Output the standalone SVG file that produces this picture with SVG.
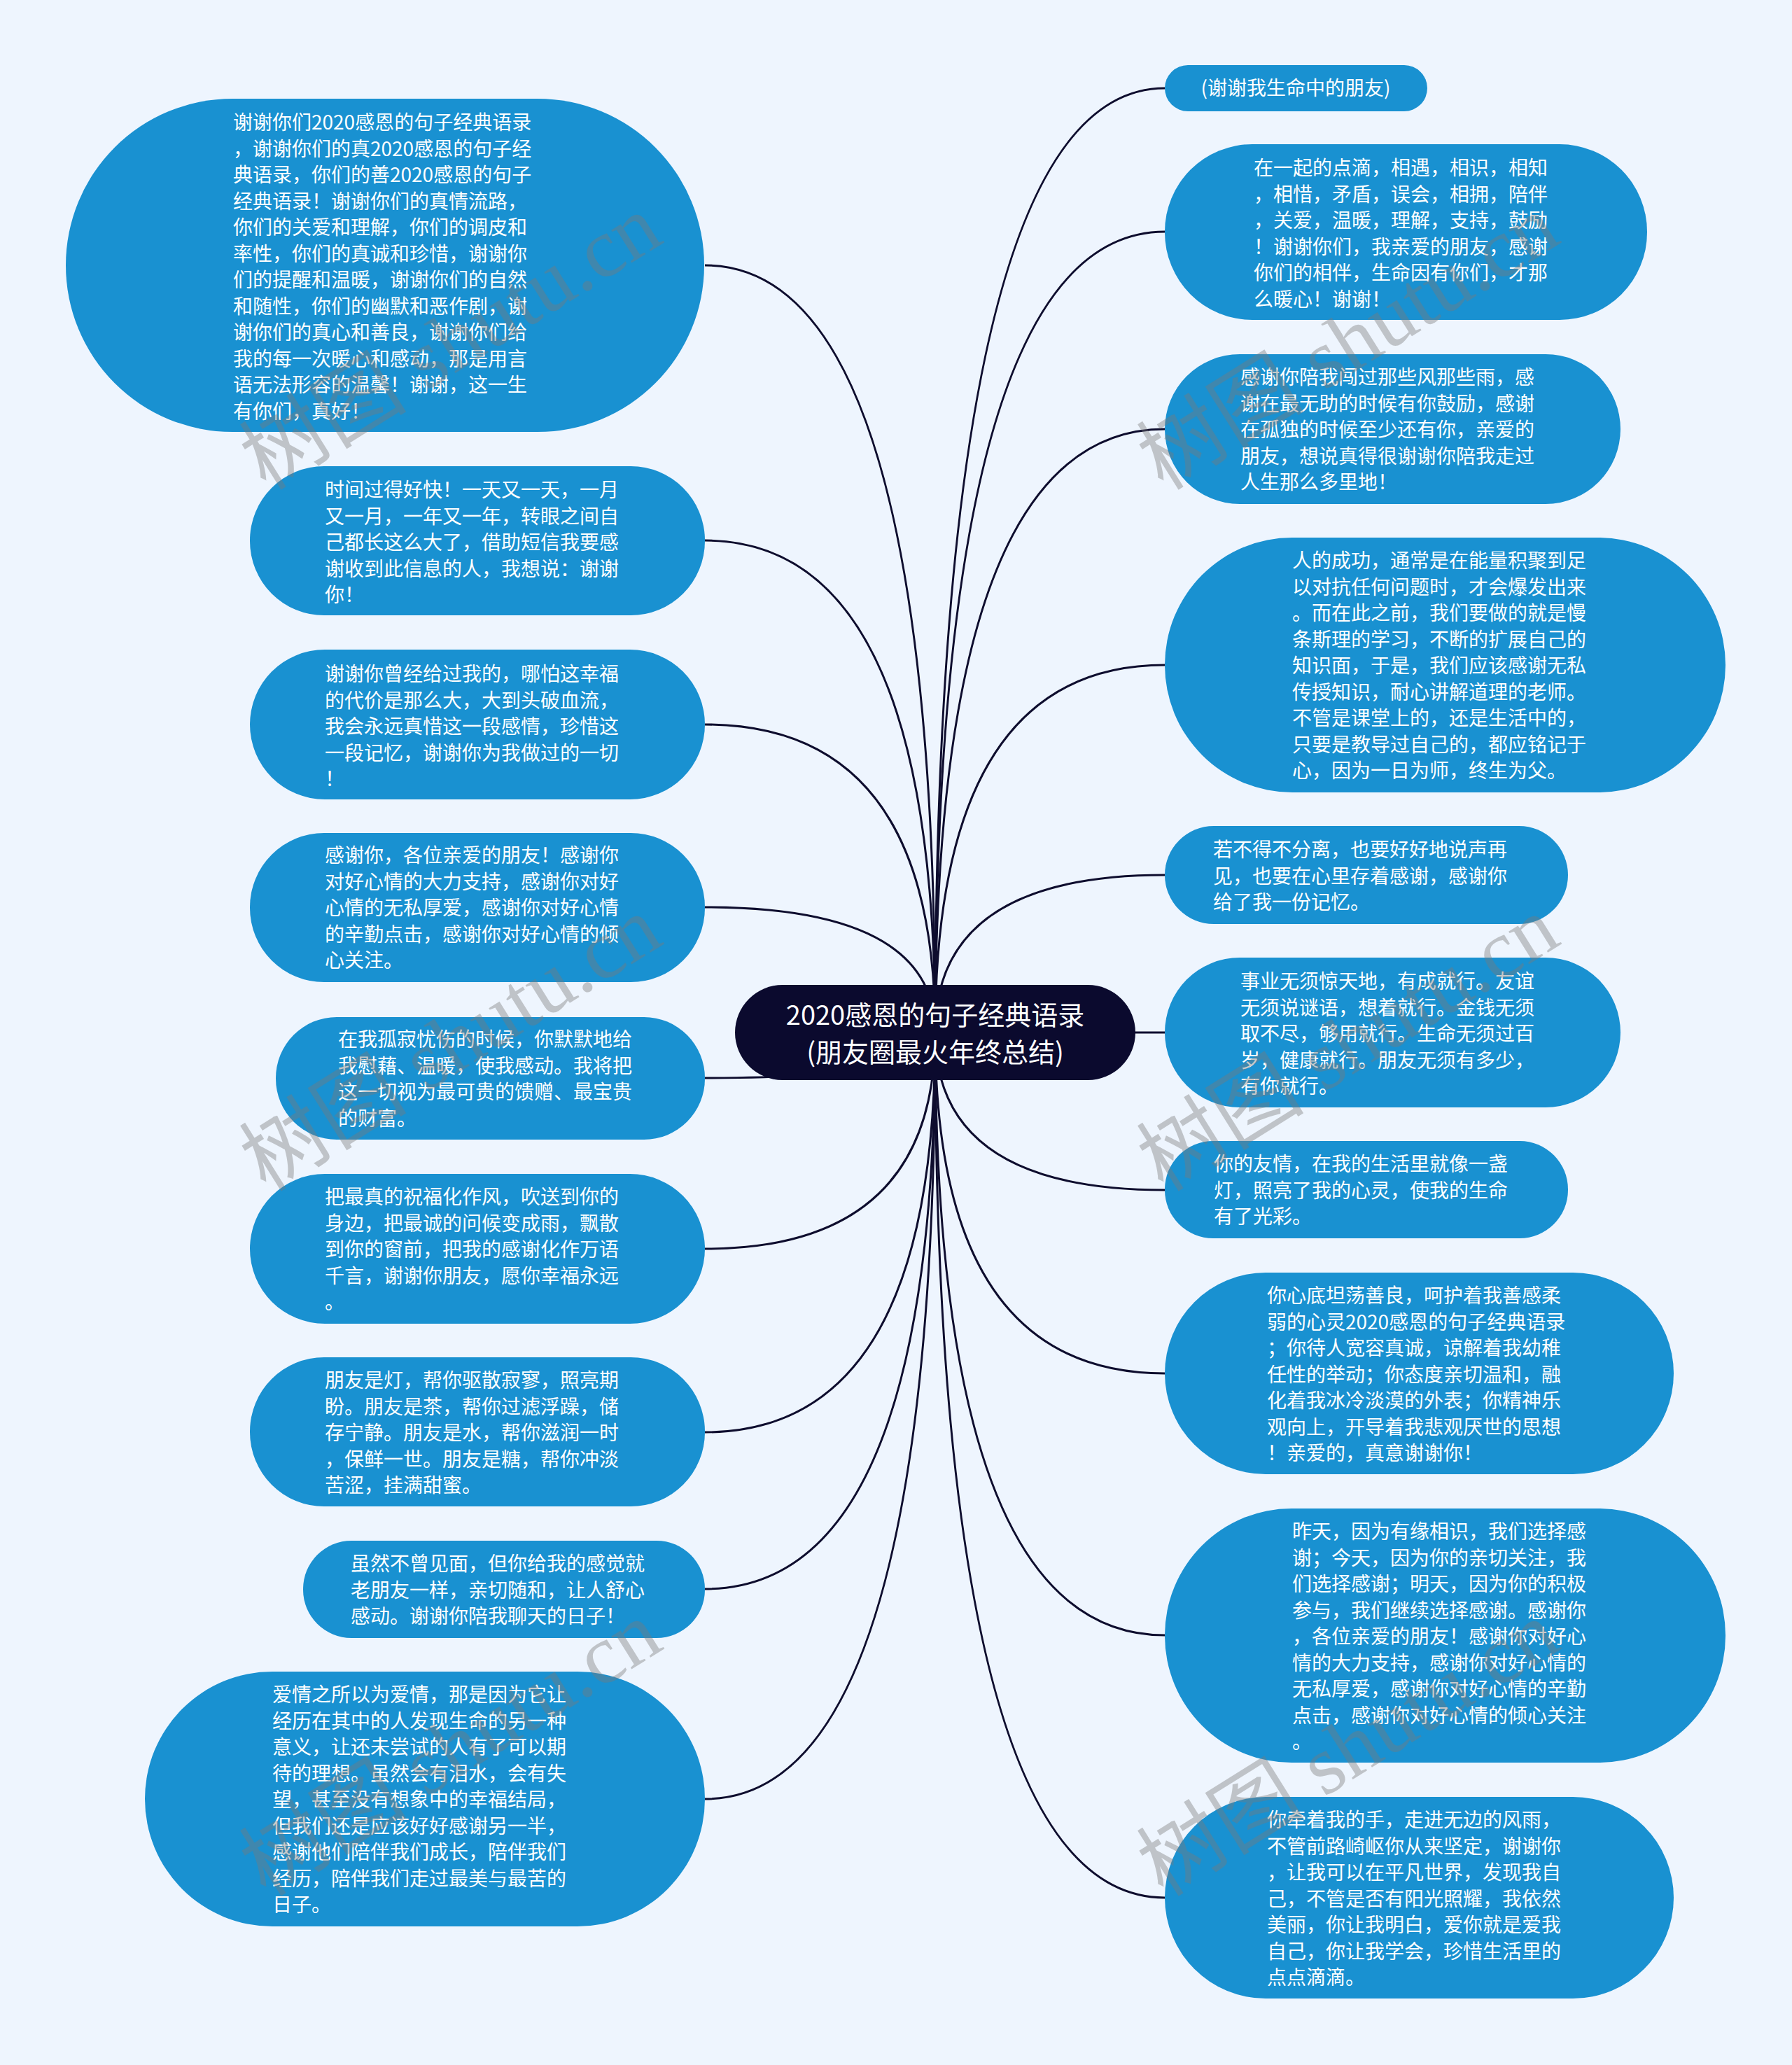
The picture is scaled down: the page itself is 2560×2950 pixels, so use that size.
<svg xmlns="http://www.w3.org/2000/svg" width="2560" height="2950" viewBox="0 0 2560 2950">
<style>
.bg{fill:#EEF5FE}
.node{fill:#1991D1}
.root{fill:#0B0A2E}
.t{font-family:"Noto Sans CJK SC","Noto Sans",sans-serif;font-size:28px;fill:#FFFFFF}
.rt{font-family:"Noto Sans CJK SC","Noto Sans",sans-serif;font-size:38px;fill:#FFFFFF;text-anchor:middle}
.link{fill:none;stroke:#0E0D2E;stroke-width:3}
.wm{font-family:"Liberation Serif","Noto Sans CJK SC",serif;font-size:120px;fill:#7A7A7A;opacity:0.4}
</style>
<rect class="bg" x="0" y="0" width="2560" height="2950"/>
<g id="connectors">
<path class="link" d="M1336,1475 Q1336,379 1007,379"/>
<path class="link" d="M1336,1475 Q1336,772 1007,772"/>
<path class="link" d="M1336,1475 Q1336,1035 1007,1035"/>
<path class="link" d="M1336,1475 Q1336,1296 1007,1296"/>
<path class="link" d="M1336,1475 Q1336,1540 1007,1540"/>
<path class="link" d="M1336,1475 Q1336,1784 1007,1784"/>
<path class="link" d="M1336,1475 Q1336,2046 1007,2046"/>
<path class="link" d="M1336,1475 Q1336,2270 1007,2270"/>
<path class="link" d="M1336,1475 Q1336,2570 1007,2570"/>
<path class="link" d="M1336,1475 Q1336,126 1664,126"/>
<path class="link" d="M1336,1475 Q1336,331 1664,331"/>
<path class="link" d="M1336,1475 Q1336,613 1664,613"/>
<path class="link" d="M1336,1475 Q1336,950 1664,950"/>
<path class="link" d="M1336,1475 Q1336,1250 1664,1250"/>
<path class="link" d="M1336,1475 L1664,1475"/>
<path class="link" d="M1336,1475 Q1336,1700 1664,1700"/>
<path class="link" d="M1336,1475 Q1336,1962 1664,1962"/>
<path class="link" d="M1336,1475 Q1336,2336 1664,2336"/>
<path class="link" d="M1336,1475 Q1336,2711 1664,2711"/>
</g>
<g id="root">
<rect class="root" x="1050" y="1407" width="572" height="136" rx="68"/>
<text class="rt" x="1336" y="1464">2020感恩的句子经典语录</text>
<text class="rt" x="1336" y="1517">(朋友圈最火年终总结)</text>
</g>
<g id="L1">
<rect class="node" x="94" y="141" width="912" height="476" rx="238"/>
<text class="t">
<tspan x="333" y="185">谢谢你们2020感恩的句子经典语录</tspan>
<tspan x="333" y="222.5">，谢谢你们的真2020感恩的句子经</tspan>
<tspan x="333" y="260">典语录，你们的善2020感恩的句子</tspan>
<tspan x="333" y="297.5">经典语录！谢谢你们的真情流路，</tspan>
<tspan x="333" y="335">你们的关爱和理解，你们的调皮和</tspan>
<tspan x="333" y="372.5">率性，你们的真诚和珍惜，谢谢你</tspan>
<tspan x="333" y="410">们的提醒和温暖，谢谢你们的自然</tspan>
<tspan x="333" y="447.5">和随性，你们的幽默和恶作剧，谢</tspan>
<tspan x="333" y="485">谢你们的真心和善良，谢谢你们给</tspan>
<tspan x="333" y="522.5">我的每一次暖心和感动，那是用言</tspan>
<tspan x="333" y="560">语无法形容的温馨！谢谢，这一生</tspan>
<tspan x="333" y="597.5">有你们，真好！</tspan>
</text>
</g>
<g id="L2">
<rect class="node" x="357" y="666" width="650" height="213" rx="106"/>
<text class="t">
<tspan x="464" y="710">时间过得好快！一天又一天，一月</tspan>
<tspan x="464" y="747.5">又一月，一年又一年，转眼之间自</tspan>
<tspan x="464" y="785">己都长这么大了，借助短信我要感</tspan>
<tspan x="464" y="822.5">谢收到此信息的人，我想说：谢谢</tspan>
<tspan x="464" y="860">你！</tspan>
</text>
</g>
<g id="L3">
<rect class="node" x="357" y="928" width="650" height="214" rx="107"/>
<text class="t">
<tspan x="464" y="973">谢谢你曾经给过我的，哪怕这幸福</tspan>
<tspan x="464" y="1010.5">的代价是那么大，大到头破血流，</tspan>
<tspan x="464" y="1048">我会永远真惜这一段感情，珍惜这</tspan>
<tspan x="464" y="1085.5">一段记忆，谢谢你为我做过的一切</tspan>
<tspan x="464" y="1123">！</tspan>
</text>
</g>
<g id="L4">
<rect class="node" x="357" y="1190" width="650" height="213" rx="106"/>
<text class="t">
<tspan x="464" y="1232">感谢你，各位亲爱的朋友！感谢你</tspan>
<tspan x="464" y="1269.5">对好心情的大力支持，感谢你对好</tspan>
<tspan x="464" y="1307">心情的无私厚爱，感谢你对好心情</tspan>
<tspan x="464" y="1344.5">的辛勤点击，感谢你对好心情的倾</tspan>
<tspan x="464" y="1382">心关注。</tspan>
</text>
</g>
<g id="L5">
<rect class="node" x="394" y="1453" width="613" height="175" rx="87"/>
<text class="t">
<tspan x="483" y="1495">在我孤寂忧伤的时候，你默默地给</tspan>
<tspan x="483" y="1532.5">我慰藉、温暖，使我感动。我将把</tspan>
<tspan x="483" y="1570">这一切视为最可贵的馈赠、最宝贵</tspan>
<tspan x="483" y="1607.5">的财富。</tspan>
</text>
</g>
<g id="L6">
<rect class="node" x="357" y="1677" width="650" height="214" rx="107"/>
<text class="t">
<tspan x="464" y="1720">把最真的祝福化作风，吹送到你的</tspan>
<tspan x="464" y="1757.5">身边，把最诚的问候变成雨，飘散</tspan>
<tspan x="464" y="1795">到你的窗前，把我的感谢化作万语</tspan>
<tspan x="464" y="1832.5">千言，谢谢你朋友，愿你幸福永远</tspan>
<tspan x="464" y="1870">。</tspan>
</text>
</g>
<g id="L7">
<rect class="node" x="357" y="1939" width="650" height="213" rx="106"/>
<text class="t">
<tspan x="464" y="1982">朋友是灯，帮你驱散寂寥，照亮期</tspan>
<tspan x="464" y="2019.5">盼。朋友是茶，帮你过滤浮躁，储</tspan>
<tspan x="464" y="2057">存宁静。朋友是水，帮你滋润一时</tspan>
<tspan x="464" y="2094.5">，保鲜一世。朋友是糖，帮你冲淡</tspan>
<tspan x="464" y="2132">苦涩，挂满甜蜜。</tspan>
</text>
</g>
<g id="L8">
<rect class="node" x="433" y="2201" width="574" height="139" rx="69"/>
<text class="t">
<tspan x="501" y="2244">虽然不曾见面，但你给我的感觉就</tspan>
<tspan x="501" y="2281.5">老朋友一样，亲切随和，让人舒心</tspan>
<tspan x="501" y="2319">感动。谢谢你陪我聊天的日子！</tspan>
</text>
</g>
<g id="L9">
<rect class="node" x="207" y="2388" width="800" height="364" rx="182"/>
<text class="t">
<tspan x="389" y="2431">爱情之所以为爱情，那是因为它让</tspan>
<tspan x="389" y="2468.5">经历在其中的人发现生命的另一种</tspan>
<tspan x="389" y="2506">意义，让还未尝试的人有了可以期</tspan>
<tspan x="389" y="2543.5">待的理想。虽然会有泪水，会有失</tspan>
<tspan x="389" y="2581">望，甚至没有想象中的幸福结局，</tspan>
<tspan x="389" y="2618.5">但我们还是应该好好感谢另一半，</tspan>
<tspan x="389" y="2656">感谢他们陪伴我们成长，陪伴我们</tspan>
<tspan x="389" y="2693.5">经历，陪伴我们走过最美与最苦的</tspan>
<tspan x="389" y="2731">日子。</tspan>
</text>
</g>
<g id="R1">
<rect class="node" x="1664" y="93" width="375" height="66" rx="33"/>
<text class="t" x="1851" y="136" text-anchor="middle">(谢谢我生命中的朋友)</text>
</g>
<g id="R2">
<rect class="node" x="1664" y="206" width="689" height="251" rx="125"/>
<text class="t">
<tspan x="1791" y="250">在一起的点滴，相遇，相识，相知</tspan>
<tspan x="1791" y="287.5">，相惜，矛盾，误会，相拥，陪伴</tspan>
<tspan x="1791" y="325">，关爱，温暖，理解，支持，鼓励</tspan>
<tspan x="1791" y="362.5">！谢谢你们，我亲爱的朋友，感谢</tspan>
<tspan x="1791" y="400">你们的相伴，生命因有你们，才那</tspan>
<tspan x="1791" y="437.5">么暖心！谢谢！</tspan>
</text>
</g>
<g id="R3">
<rect class="node" x="1664" y="506" width="651" height="214" rx="107"/>
<text class="t">
<tspan x="1772" y="549">感谢你陪我闯过那些风那些雨，感</tspan>
<tspan x="1772" y="586.5">谢在最无助的时候有你鼓励，感谢</tspan>
<tspan x="1772" y="624">在孤独的时候至少还有你，亲爱的</tspan>
<tspan x="1772" y="661.5">朋友，想说真得很谢谢你陪我走过</tspan>
<tspan x="1772" y="699">人生那么多里地！</tspan>
</text>
</g>
<g id="R4">
<rect class="node" x="1664" y="768" width="801" height="364" rx="182"/>
<text class="t">
<tspan x="1846" y="811">人的成功，通常是在能量积聚到足</tspan>
<tspan x="1846" y="848.5">以对抗任何问题时，才会爆发出来</tspan>
<tspan x="1846" y="886">。而在此之前，我们要做的就是慢</tspan>
<tspan x="1846" y="923.5">条斯理的学习，不断的扩展自己的</tspan>
<tspan x="1846" y="961">知识面，于是，我们应该感谢无私</tspan>
<tspan x="1846" y="998.5">传授知识，耐心讲解道理的老师。</tspan>
<tspan x="1846" y="1036">不管是课堂上的，还是生活中的，</tspan>
<tspan x="1846" y="1073.5">只要是教导过自己的，都应铭记于</tspan>
<tspan x="1846" y="1111">心，因为一日为师，终生为父。</tspan>
</text>
</g>
<g id="R5">
<rect class="node" x="1664" y="1180" width="576" height="140" rx="70"/>
<text class="t">
<tspan x="1733" y="1224">若不得不分离，也要好好地说声再</tspan>
<tspan x="1733" y="1261.5">见，也要在心里存着感谢，感谢你</tspan>
<tspan x="1733" y="1299">给了我一份记忆。</tspan>
</text>
</g>
<g id="R6">
<rect class="node" x="1664" y="1368" width="651" height="214" rx="107"/>
<text class="t">
<tspan x="1772" y="1412">事业无须惊天地，有成就行。友谊</tspan>
<tspan x="1772" y="1449.5">无须说谜语，想着就行。金钱无须</tspan>
<tspan x="1772" y="1487">取不尽，够用就行。生命无须过百</tspan>
<tspan x="1772" y="1524.5">岁，健康就行。朋友无须有多少，</tspan>
<tspan x="1772" y="1562">有你就行。</tspan>
</text>
</g>
<g id="R7">
<rect class="node" x="1664" y="1630" width="576" height="139" rx="69"/>
<text class="t">
<tspan x="1734" y="1673">你的友情，在我的生活里就像一盏</tspan>
<tspan x="1734" y="1710.5">灯，照亮了我的心灵，使我的生命</tspan>
<tspan x="1734" y="1748">有了光彩。</tspan>
</text>
</g>
<g id="R8">
<rect class="node" x="1664" y="1818" width="727" height="288" rx="144"/>
<text class="t">
<tspan x="1810" y="1861">你心底坦荡善良，呵护着我善感柔</tspan>
<tspan x="1810" y="1898.5">弱的心灵2020感恩的句子经典语录</tspan>
<tspan x="1810" y="1936">；你待人宽容真诚，谅解着我幼稚</tspan>
<tspan x="1810" y="1973.5">任性的举动；你态度亲切温和，融</tspan>
<tspan x="1810" y="2011">化着我冰冷淡漠的外表；你精神乐</tspan>
<tspan x="1810" y="2048.5">观向上，开导着我悲观厌世的思想</tspan>
<tspan x="1810" y="2086">！亲爱的，真意谢谢你！</tspan>
</text>
</g>
<g id="R9">
<rect class="node" x="1664" y="2155" width="801" height="363" rx="181"/>
<text class="t">
<tspan x="1846" y="2198">昨天，因为有缘相识，我们选择感</tspan>
<tspan x="1846" y="2235.5">谢；今天，因为你的亲切关注，我</tspan>
<tspan x="1846" y="2273">们选择感谢；明天，因为你的积极</tspan>
<tspan x="1846" y="2310.5">参与，我们继续选择感谢。感谢你</tspan>
<tspan x="1846" y="2348">，各位亲爱的朋友！感谢你对好心</tspan>
<tspan x="1846" y="2385.5">情的大力支持，感谢你对好心情的</tspan>
<tspan x="1846" y="2423">无私厚爱，感谢你对好心情的辛勤</tspan>
<tspan x="1846" y="2460.5">点击，感谢你对好心情的倾心关注</tspan>
<tspan x="1846" y="2498">。</tspan>
</text>
</g>
<g id="R10">
<rect class="node" x="1664" y="2567" width="727" height="288" rx="144"/>
<text class="t">
<tspan x="1810" y="2610">你牵着我的手，走进无边的风雨，</tspan>
<tspan x="1810" y="2647.5">不管前路崎岖你从来坚定，谢谢你</tspan>
<tspan x="1810" y="2685">，让我可以在平凡世界，发现我自</tspan>
<tspan x="1810" y="2722.5">己，不管是否有阳光照耀，我依然</tspan>
<tspan x="1810" y="2760">美丽，你让我明白，爱你就是爱我</tspan>
<tspan x="1810" y="2797.5">自己，你让我学会，珍惜生活里的</tspan>
<tspan x="1810" y="2835">点点滴滴。</tspan>
</text>
</g>
<g id="watermark">
<text class="wm" transform="translate(380,702) rotate(-32)">树图 shutu.cn</text>
<text class="wm" transform="translate(1662,702) rotate(-32)">树图 shutu.cn</text>
<text class="wm" transform="translate(380,1704) rotate(-32)">树图 shutu.cn</text>
<text class="wm" transform="translate(1662,1704) rotate(-32)">树图 shutu.cn</text>
<text class="wm" transform="translate(380,2711) rotate(-32)">树图 shutu.cn</text>
<text class="wm" transform="translate(1662,2711) rotate(-32)">树图 shutu.cn</text>
</g>
</svg>
